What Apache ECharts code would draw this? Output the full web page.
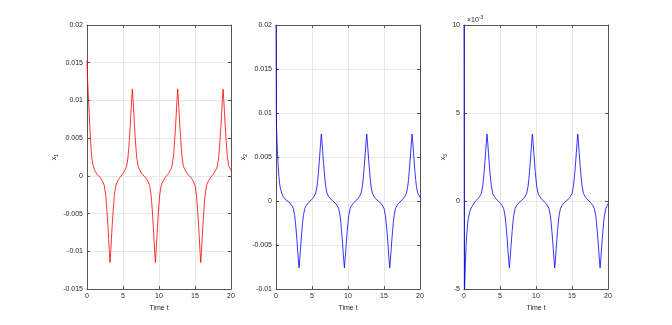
<!DOCTYPE html>
<html>
<head>
<meta charset="utf-8">
<script src="https://cdn.jsdelivr.net/npm/echarts@6.0.0/dist/echarts.min.js"></script>
<style>
  html, body { margin: 0; padding: 0; background: #fff; }
  #chart { width: 672px; height: 325px; }
</style>
</head>
<body>
<div id="chart"></div>
<script>
// time samples (denser around the spikes)
const time = [
  0, 0.05, 0.1, 0.15, 0.2, 0.3, 0.4, 0.5, 0.6, 0.7, 0.8, 1.0, 1.2, 1.4, 1.6,
  1.8, 2.0, 2.2, 2.4, 2.6, 2.7, 2.8, 2.9, 3.0, 3.1, 3.2,
  3.3, 3.4, 3.5, 3.6, 3.7, 3.8, 4.0, 4.2, 4.4, 4.6, 4.75,
  4.9, 5.1, 5.3, 5.5, 5.7, 5.8, 5.9, 6.0, 6.1, 6.2, 6.3,
  6.4, 6.5, 6.6, 6.7, 6.8, 6.9, 7.1, 7.3, 7.5, 7.7, 7.9,
  8.1, 8.3, 8.5, 8.7, 8.9, 9.0, 9.1, 9.2, 9.3, 9.4, 9.5,
  9.6, 9.7, 9.8, 9.9, 10.0, 10.1, 10.3, 10.5, 10.7, 10.9, 11.05,
  11.2, 11.4, 11.6, 11.8, 12.0, 12.1, 12.2, 12.3, 12.4, 12.5, 12.6,
  12.7, 12.8, 12.9, 13.0, 13.1, 13.2, 13.4, 13.6, 13.8, 14.0, 14.2,
  14.4, 14.6, 14.8, 15.0, 15.2, 15.3, 15.4, 15.5, 15.6, 15.7, 15.8,
  15.9, 16.0, 16.1, 16.2, 16.3, 16.4, 16.6, 16.8, 17.0, 17.2, 17.35,
  17.5, 17.7, 17.9, 18.1, 18.3, 18.4, 18.5, 18.6, 18.7, 18.8, 18.9,
  19.0, 19.1, 19.2, 19.3, 19.4, 19.5, 19.7, 19.9, 20.0
];

const x1 = [
  0.0153, 0.0136, 0.0124, 0.0113, 0.0104, 0.0084, 0.0064, 0.0046, 0.0031, 0.0022, 0.0016, 0.0009, 0.0005, 0.0002, 0,
  -0.00017, -0.00046, -0.00081, -0.00127, -0.00253, -0.00368, -0.00506, -0.00656, -0.00828, -0.01001, -0.0115,
  -0.01001, -0.00828, -0.00656, -0.00506, -0.00368, -0.00253, -0.00127, -0.00081, -0.00046, -0.00017, 0,
  0.00017, 0.00046, 0.00081, 0.00127, 0.00253, 0.00368, 0.00506, 0.00656, 0.00828, 0.01001, 0.0115,
  0.01001, 0.00828, 0.00656, 0.00506, 0.00368, 0.00253, 0.00127, 0.00081, 0.00046, 0.00017, 0,
  -0.00017, -0.00046, -0.00081, -0.00127, -0.00253, -0.00368, -0.00506, -0.00656, -0.00828, -0.01001, -0.0115,
  -0.01001, -0.00828, -0.00656, -0.00506, -0.00368, -0.00253, -0.00127, -0.00081, -0.00046, -0.00017, 0,
  0.00017, 0.00046, 0.00081, 0.00127, 0.00253, 0.00368, 0.00506, 0.00656, 0.00828, 0.01001, 0.0115,
  0.01001, 0.00828, 0.00656, 0.00506, 0.00368, 0.00253, 0.00127, 0.00081, 0.00046, 0.00017, 0,
  -0.00017, -0.00046, -0.00081, -0.00127, -0.00253, -0.00368, -0.00506, -0.00656, -0.00828, -0.01001, -0.0115,
  -0.01001, -0.00828, -0.00656, -0.00506, -0.00368, -0.00253, -0.00127, -0.00081, -0.00046, -0.00017, 0,
  0.00017, 0.00046, 0.00081, 0.00127, 0.00253, 0.00368, 0.00506, 0.00656, 0.00828, 0.01001, 0.0115,
  0.01001, 0.00828, 0.00656, 0.00506, 0.00368, 0.00253, 0.00127, 0.0009, 0.0007
];

const x2 = [
  0.02, 0.0088, 0.0078, 0.0066, 0.0056, 0.004, 0.0028, 0.002, 0.0015, 0.0012, 0.0009, 0.0005, 0.0003, 0.0001, 0,
  -0.00011, -0.0003, -0.00053, -0.00084, -0.00167, -0.00243, -0.00334, -0.00433, -0.00547, -0.00661, -0.0076,
  -0.00661, -0.00547, -0.00433, -0.00334, -0.00243, -0.00167, -0.00084, -0.00053, -0.0003, -0.00011, 0,
  0.00011, 0.0003, 0.00053, 0.00084, 0.00167, 0.00243, 0.00334, 0.00433, 0.00547, 0.00661, 0.0076,
  0.00661, 0.00547, 0.00433, 0.00334, 0.00243, 0.00167, 0.00084, 0.00053, 0.0003, 0.00011, 0,
  -0.00011, -0.0003, -0.00053, -0.00084, -0.00167, -0.00243, -0.00334, -0.00433, -0.00547, -0.00661, -0.0076,
  -0.00661, -0.00547, -0.00433, -0.00334, -0.00243, -0.00167, -0.00084, -0.00053, -0.0003, -0.00011, 0,
  0.00011, 0.0003, 0.00053, 0.00084, 0.00167, 0.00243, 0.00334, 0.00433, 0.00547, 0.00661, 0.0076,
  0.00661, 0.00547, 0.00433, 0.00334, 0.00243, 0.00167, 0.00084, 0.00053, 0.0003, 0.00011, 0,
  -0.00011, -0.0003, -0.00053, -0.00084, -0.00167, -0.00243, -0.00334, -0.00433, -0.00547, -0.00661, -0.0076,
  -0.00661, -0.00547, -0.00433, -0.00334, -0.00243, -0.00167, -0.00084, -0.00053, -0.0003, -0.00011, 0,
  0.00011, 0.0003, 0.00053, 0.00084, 0.00167, 0.00243, 0.00334, 0.00433, 0.00547, 0.00661, 0.0076,
  0.00661, 0.00547, 0.00433, 0.00334, 0.00243, 0.00167, 0.00084, 0.0006, 0.0004
];

// x3 in units of 1e-3
const x3 = [
  10, -5.3, -4.8, -4.1, -3.5, -2.4, -1.8, -1.3, -1.0, -0.8, -0.6, -0.4, -0.25, -0.12, 0,
  0.06, 0.15, 0.27, 0.42, 0.84, 1.22, 1.67, 2.17, 2.74, 3.31, 3.8,
  3.31, 2.74, 2.17, 1.67, 1.22, 0.84, 0.42, 0.27, 0.15, 0.06, 0,
  -0.06, -0.15, -0.27, -0.42, -0.84, -1.22, -1.67, -2.17, -2.74, -3.31, -3.8,
  -3.31, -2.74, -2.17, -1.67, -1.22, -0.84, -0.42, -0.27, -0.15, -0.06, 0,
  0.06, 0.15, 0.27, 0.42, 0.84, 1.22, 1.67, 2.17, 2.74, 3.31, 3.8,
  3.31, 2.74, 2.17, 1.67, 1.22, 0.84, 0.42, 0.27, 0.15, 0.06, 0,
  -0.06, -0.15, -0.27, -0.42, -0.84, -1.22, -1.67, -2.17, -2.74, -3.31, -3.8,
  -3.31, -2.74, -2.17, -1.67, -1.22, -0.84, -0.42, -0.27, -0.15, -0.06, 0,
  0.06, 0.15, 0.27, 0.42, 0.84, 1.22, 1.67, 2.17, 2.74, 3.31, 3.8,
  3.31, 2.74, 2.17, 1.67, 1.22, 0.84, 0.42, 0.27, 0.15, 0.06, 0,
  -0.06, -0.15, -0.27, -0.42, -0.84, -1.22, -1.67, -2.17, -2.74, -3.31, -3.8,
  -3.31, -2.74, -2.17, -1.67, -1.22, -0.84, -0.42, -0.25, -0.15
];

const timeRange = [0, 20, 5];
const x1Range = [-0.015, 0.02, 0.005];
const x2Range = [-0.01, 0.02, 0.005];
const x3Range = [-5, 10, 5];

const axisColor = '#555';
const textColor = '#262626';
const font = 'Liberation Sans';

const panels = [
  { left: 87, sub: '1', data: x1, range: x1Range, color: '#ff0000', gap: 26 },
  { left: 276, sub: '2', data: x2, range: x2Range, color: '#0000ff', gap: 28 },
  { left: 464, sub: '3', data: x3, range: x3Range, color: '#0000ff', gap: 16 },
];

let grids = [], xAxes = [], yAxes = [], series = [];

panels.forEach((p, i) => {
  grids.push({ left: p.left, top: 25, width: 144, height: 264 });
  // bottom + top x axes (box)
  ['bottom', 'top'].forEach((pos) => {
    let main = pos === 'bottom';
    xAxes.push({
      type: 'value', gridIndex: i, position: pos,
      min: timeRange[0], max: timeRange[1], interval: timeRange[2],
      name: main ? 'Time t' : '', nameLocation: 'middle', nameGap: 15,
      nameTextStyle: { fontSize: 7, color: textColor, fontFamily: font },
      axisLine: { show: true, onZero: false, lineStyle: { color: axisColor, width: 1 } },
      axisTick: { show: true, inside: true, length: 3, lineStyle: { color: axisColor } },
      axisLabel: { show: main, fontSize: 7, color: textColor, fontFamily: font, margin: 4 },
      splitLine: { show: main, lineStyle: { color: '#e8e8e8', width: 1 } },
    });
  });
  ['left', 'right'].forEach((pos) => {
    let main = pos === 'left';
    yAxes.push({
      type: 'value', gridIndex: i, position: pos,
      min: p.range[0], max: p.range[1], interval: p.range[2],
      name: main ? '{a|x}{b|' + p.sub + '}' : '', nameLocation: 'middle', nameGap: p.gap, nameRotate: 90,
      nameTextStyle: {
        color: textColor, fontFamily: font,
        rich: {
          a: { fontSize: 7, lineHeight: 10, color: textColor, fontFamily: font },
          b: { fontSize: 5, verticalAlign: 'bottom', color: textColor, fontFamily: font },
        },
      },
      axisLine: { show: true, onZero: false, lineStyle: { color: axisColor, width: 1 } },
      axisTick: { show: true, inside: true, length: 3, lineStyle: { color: axisColor } },
      axisLabel: { show: main, fontSize: 7, color: textColor, fontFamily: font, margin: 4 },
      splitLine: { show: main, lineStyle: { color: '#e8e8e8', width: 1 } },
    });
  });
  series.push({
    type: 'line',
    xAxisIndex: i * 2, yAxisIndex: i * 2,
    data: time.map((t, k) => [t, p.data[k]]),
    showSymbol: false, clip: true,
    lineStyle: { color: p.color, width: 0.8 },
    itemStyle: { color: p.color },
  });
});

let myChart = echarts.init(document.getElementById('chart'));
myChart.setOption({
  animation: false,
  backgroundColor: '#fff',
  grid: grids,
  xAxis: xAxes,
  yAxis: yAxes,
  series: series,
  graphic: [{
    type: 'text', left: 467, top: 15,
    style: {
      text: '{a|×10}{b|-3}',
      rich: {
        a: { fontSize: 7, lineHeight: 10, fill: textColor, fontFamily: font },
        b: { fontSize: 5, verticalAlign: 'top', fill: textColor, fontFamily: font },
      },
    },
  }],
});
</script>
</body>
</html>
